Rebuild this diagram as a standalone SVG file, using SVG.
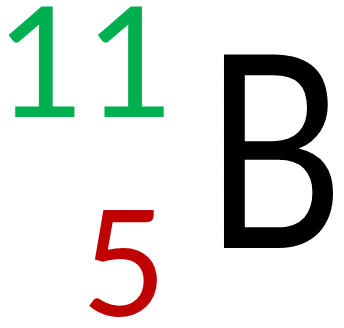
<svg xmlns="http://www.w3.org/2000/svg" width="344" height="328" viewBox="0 0 344 328">
<style>
text { font-family: Lato, "Open Sans", sans-serif; }
.mass { fill: #00B050; font-size: 154px; }
.sym { fill: #000000; font-size: 270px; }
.num { fill: #C00000; font-size: 148px; }
</style>
<rect width="344" height="328" fill="#ffffff"/>
<g id="mass-number"><text class="mass" x="-4" y="117">11</text></g>
<g id="symbol" transform="translate(221,248) scale(0.8,1)"><text class="sym" x="-21" y="0">B</text></g>
<g id="atomic-number"><text class="num" x="81" y="316">5</text></g>
</svg>
